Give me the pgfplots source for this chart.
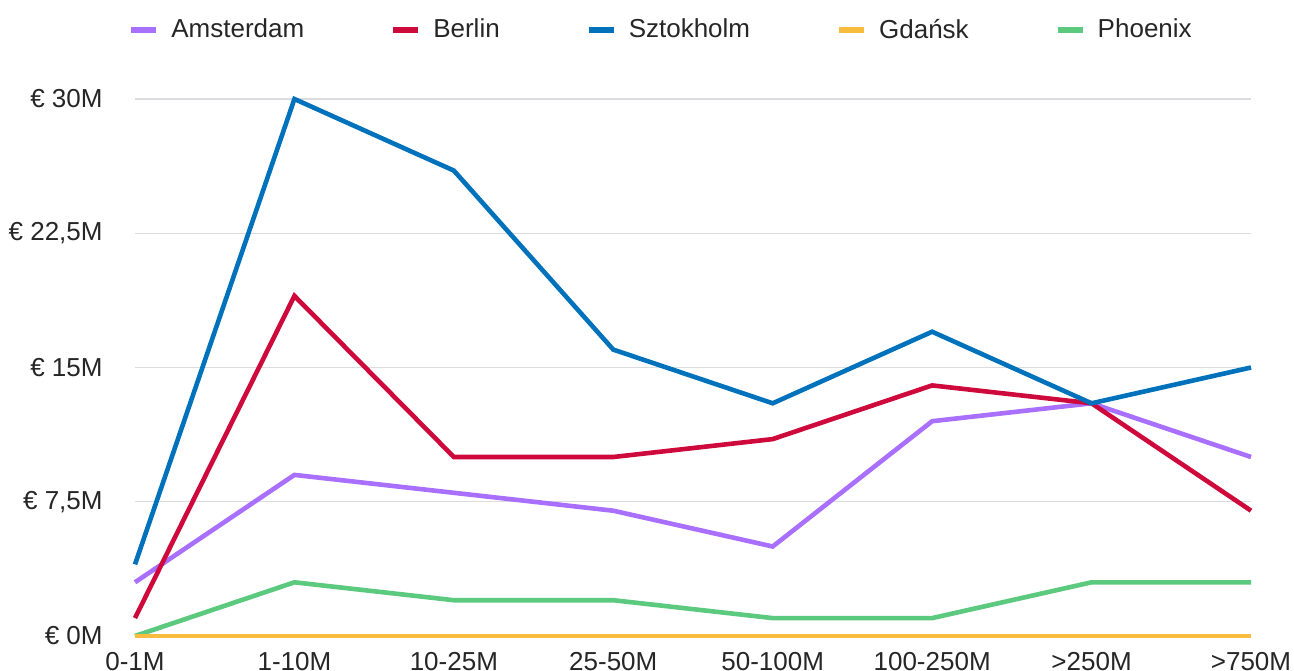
\documentclass[border=0pt]{standalone}
\usepackage{fontspec}
\setmainfont{Liberation Sans}
\usepackage{pgfplots}
\pgfplotsset{compat=1.18}

\definecolor{cAms}{HTML}{A970FF}
\definecolor{cBer}{HTML}{CE0A3C}
\definecolor{cSto}{HTML}{0072BB}
\definecolor{cGda}{HTML}{F8BD3E}
\definecolor{cPho}{HTML}{5BC97E}
\definecolor{cGrid}{HTML}{DADCE0}

\begin{document}
\begin{tikzpicture}
\begin{axis}[
  at={(0,0)}, anchor=south west,
  scale only axis,
  width=558pt, height=268.5pt,
  xmin=0, xmax=7, ymin=0, ymax=30,
  xtick={0,...,7},
  xticklabels={0-1M,1-10M,10-25M,25-50M,50-100M,100-250M,{>250M},{>750M}},
  ytick={0,7.5,15,22.5,30},
  yticklabels={{€ 0M},{€ 7,5M},{€ 15M},{€ 22,5M},{€ 30M}},
  axis line style={draw=none},
  major tick length=0pt,
  ymajorgrids,
  grid style={cGrid, line width=0.7pt},
  tick label style={font=\fontsize{13pt}{15pt}\selectfont, text=black!85},
  xticklabel style={inner sep=0pt, anchor=north, yshift=-8pt},
  yticklabel style={inner sep=0pt, anchor=east, xshift=-16pt},
  clip=false,
  every axis plot/.append style={line width=2.3pt, mark=none},
  legend columns=5,
  legend style={at={(-0.0063,1.1285)}, anchor=west, draw=none, fill=none,
    inner sep=0pt, font=\fontsize{13pt}{15pt}\selectfont,
    nodes={inner sep=0pt, text=black!85},
    /tikz/every odd column/.append style={column sep=6pt},
    /tikz/every even column/.append style={column sep=43pt}},
  legend image code/.code={\draw[#1, line width=3pt] (0pt,0pt) -- (12.5pt,0pt);},
]
\addplot[cAms] coordinates {(0,3) (1,9) (2,8) (3,7) (4,5) (5,12) (6,13) (7,10)};
\addlegendentry{Amsterdam}
\addplot[cBer] coordinates {(0,1) (1,19) (2,10) (3,10) (4,11) (5,14) (6,13) (7,7)};
\addlegendentry{Berlin}
\addplot[cSto] coordinates {(0,4) (1,30) (2,26) (3,16) (4,13) (5,17) (6,13) (7,15)};
\addlegendentry{Sztokholm}
\addplot[cPho, forget plot] coordinates {(0,0) (1,3) (2,2) (3,2) (4,1) (5,1) (6,3) (7,3)};
\addplot[cGda] coordinates {(0,0) (1,0) (2,0) (3,0) (4,0) (5,0) (6,0) (7,0)};
\addlegendentry{Gdańsk}
\addlegendimage{cPho}
\addlegendentry{Phoenix}
\end{axis}
\pgfresetboundingbox
\useasboundingbox (-67.5pt,-17pt) rectangle (579.5pt,318pt);
\end{tikzpicture}
\end{document}
